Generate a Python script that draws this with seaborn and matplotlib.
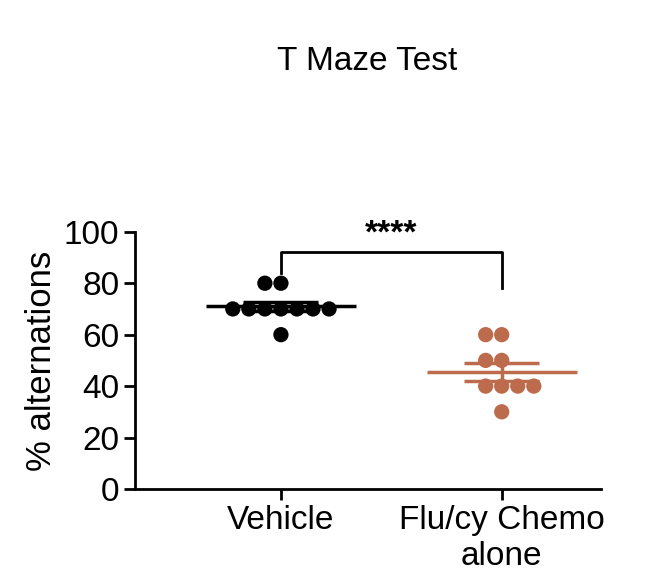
import matplotlib
matplotlib.use("Agg")
import matplotlib.pyplot as plt
import seaborn as sns
import numpy as np
import pandas as pd

categories = ["Vehicle", "Flu/cy Chemo\nalone"]
vehicle = [80, 80, 70, 70, 70, 70, 70, 70, 70, 60]
chemo = [60, 60, 50, 50, 40, 40, 40, 40, 30]
colors = ["#000000", "#BC6C4C"]

df = pd.DataFrame({"group": [categories[0]] * len(vehicle) + [categories[1]] * len(chemo),
                   "val": vehicle + chemo})

plt.rcParams["font.family"] = "Liberation Sans"
fig = plt.figure(figsize=(6.47, 5.78), dpi=100)
ax = fig.add_axes([0.209, 0.154, 0.72, 0.445])
sns.swarmplot(data=df, x="group", y="val", hue="group", palette=colors, size=11,
              order=categories, ax=ax, legend=False, zorder=3)
for i, (vals, c) in enumerate(zip([vehicle, chemo], colors)):
    m = np.mean(vals); s = np.std(vals, ddof=1) / np.sqrt(len(vals))
    ax.hlines(m, i - 0.34, i + 0.34, color=c, lw=2.5, zorder=2)
    ax.hlines([m - s, m + s], i - 0.17, i + 0.17, color=c, lw=2.5, zorder=2)
    ax.vlines(i, m - s, m + s, color=c, lw=2.5, zorder=2)
ax.plot([0, 0, 1, 1], [84, 92, 92, 78], color="black", lw=2, clip_on=False)
ax.text(0.5, 93, "****", ha="center", va="bottom", fontsize=24, fontweight="bold")
ax.set_xlim(-0.66, 1.45)
ax.set_ylim(0, 100)
ax.set_yticks([0, 20, 40, 60, 80, 100])
ax.tick_params(labelsize=24, width=2, length=8)
ax.set_xlabel("")
ax.set_ylabel("% alternations", fontsize=25)
sns.despine(ax=ax)
for sp in ["left", "bottom"]:
    ax.spines[sp].set_linewidth(2)
fig.text(0.567, 0.893, "T Maze Test", ha="center", va="center", fontsize=24)
fig.savefig("out.png", dpi=100)
